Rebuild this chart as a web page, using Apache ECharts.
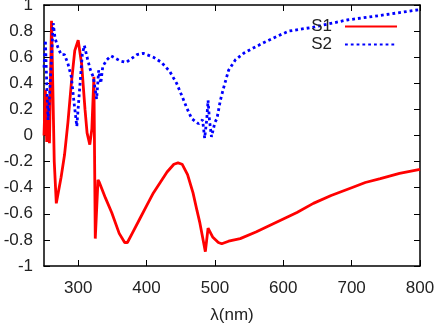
<!DOCTYPE html>
<html>
<head>
    <meta charset="utf-8">
    <title>S1 / S2</title>
    <script src="https://cdn.jsdelivr.net/npm/echarts@6/dist/echarts.min.js"></script>
    <style>
        html, body { margin: 0; padding: 0; background: #fff; }
    </style>
</head>
<body>
    <div id="chart" style="width: 439px;height:324px;"></div>

    <script>
        // wavelength (nm) and values
        const s1Wl = [250, 252, 254, 256, 258, 261, 263, 265, 268, 275, 280, 285, 290, 295, 300, 305, 310, 313, 317, 320, 323, 325, 329, 331, 340, 349, 360, 368, 372, 380, 390, 400, 410, 420, 430, 440, 446, 452, 460, 468, 474, 478, 482, 486, 490, 492, 497, 505, 510, 520, 537, 560, 580, 600, 620, 644, 670, 700, 720, 742, 770, 800];
        const s1Val = [0.0, 0.35, -0.05, 0.3, -0.06, 0.88, 0.35, -0.2, -0.52, -0.32, -0.15, 0.1, 0.4, 0.65, 0.73, 0.55, 0.2, 0.02, -0.07, 0.05, 0.45, -0.79, -0.34, -0.36, -0.48, -0.59, -0.75, -0.82, -0.82, -0.74, -0.64, -0.54, -0.44, -0.36, -0.28, -0.22, -0.21, -0.22, -0.3, -0.44, -0.58, -0.67, -0.78, -0.89, -0.71, -0.72, -0.78, -0.82, -0.83, -0.81, -0.79, -0.74, -0.69, -0.64, -0.59, -0.52, -0.46, -0.40, -0.36, -0.33, -0.29, -0.26];

        const s2Wl = [250, 252, 254, 256, 258, 261, 263.5, 266, 270, 275, 280, 285, 290, 294, 298, 302, 306, 309, 313, 318, 322, 325, 327, 330, 333, 336, 342, 348, 355, 362, 370, 378, 386, 395, 410, 422, 434, 444, 452, 459, 466, 476, 482, 485, 488, 490, 492, 495, 500, 503, 508, 513, 520, 530, 542, 556, 571, 591, 608, 644, 693, 742, 800];
        const s2Val = [0.52, 0.73, 0.4, 0.12, 0.3, 0.6, 0.86, 0.75, 0.68, 0.62, 0.62, 0.55, 0.45, 0.25, 0.07, 0.35, 0.62, 0.69, 0.6, 0.5, 0.45, 0.35, 0.28, 0.5, 0.4, 0.53, 0.58, 0.61, 0.59, 0.57, 0.56, 0.59, 0.62, 0.63, 0.60, 0.56, 0.49, 0.40, 0.30, 0.21, 0.13, 0.09, 0.12, -0.02, 0.12, 0.27, 0.12, -0.01, 0.1, 0.13, 0.27, 0.37, 0.50, 0.58, 0.63, 0.67, 0.71, 0.76, 0.80, 0.83, 0.885, 0.92, 0.965];

        const xTicks = [300, 400, 500, 600, 700, 800];

        const font = 'Liberation Sans, Arial, sans-serif';
        const s1Data = s1Wl.map((w, i) => [w, s1Val[i]]);
        const s2Data = s2Wl.map((w, i) => [w, s2Val[i]]);

        const chartDom = document.getElementById('chart');
        const myChart = echarts.init(chartDom);

        const tickStyle = { show: true, inside: true, length: 6, lineStyle: { color: '#000', width: 1 } };
        const frameLine = { show: true, onZero: false, lineStyle: { color: '#000', width: 1.5 } };

        const option = {
            animation: false,
            grid: { left: 44, right: 19, top: 5, bottom: 58, outerBoundsMode: 'none', containLabel: false },
            legend: {
                orient: 'vertical',
                right: 36,
                top: 13,
                align: 'right',
                itemWidth: 52,
                itemHeight: 12,
                itemGap: 1,
                itemStyle: { opacity: 0 },
                textStyle: { fontFamily: font, fontSize: 17, color: '#222', padding: [0, 8, 0, 0] },
                data: ['S1', 'S2']
            },
            xAxis: [{
                type: 'value',
                min: 250,
                max: 800,
                name: 'λ(nm)',
                nameLocation: 'middle',
                nameGap: 41,
                nameTextStyle: { fontFamily: font, fontSize: 17, color: '#222' },
                axisLine: frameLine,
                axisTick: Object.assign({ customValues: xTicks }, tickStyle),
                axisLabel: { customValues: xTicks, margin: 14, fontFamily: font, fontSize: 17, color: '#222' },
                splitLine: { show: false }
            }, {
                type: 'value',
                position: 'top',
                min: 250,
                max: 800,
                axisLine: frameLine,
                axisTick: Object.assign({ customValues: xTicks }, tickStyle),
                axisLabel: { show: false },
                splitLine: { show: false }
            }],
            yAxis: [{
                type: 'value',
                min: -1,
                max: 1,
                interval: 0.2,
                axisLine: frameLine,
                axisTick: tickStyle,
                axisLabel: { margin: 11, fontFamily: font, fontSize: 17, color: '#222' },
                splitLine: { show: false }
            }, {
                type: 'value',
                position: 'right',
                min: -1,
                max: 1,
                interval: 0.2,
                axisLine: frameLine,
                axisTick: tickStyle,
                axisLabel: { show: false },
                splitLine: { show: false }
            }],
            series: [{
                name: 'S1',
                type: 'line',
                symbol: 'none',
                data: s1Data,
                lineStyle: { color: '#ff0000', width: 2.8 },
                itemStyle: { color: '#ff0000' }
            }, {
                name: 'S2',
                type: 'line',
                symbol: 'none',
                data: s2Data,
                lineStyle: { color: '#0000ff', width: 2.8, type: [2.8, 3] },
                itemStyle: { color: '#0000ff' }
            }]
        };

        option && myChart.setOption(option);
    </script>
</body>
</html>
